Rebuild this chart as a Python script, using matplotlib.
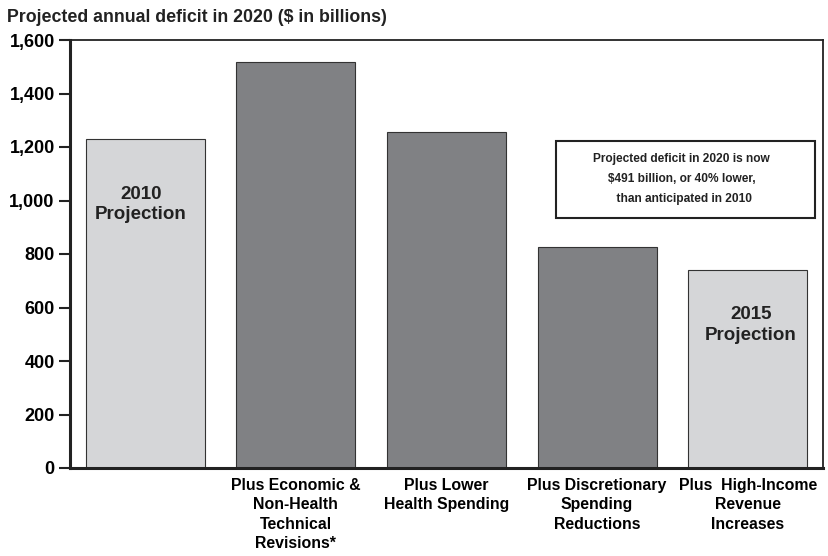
import matplotlib.pyplot as plt
from matplotlib.patches import Rectangle
from matplotlib.ticker import FuncFormatter

plt.rcParams['font.family'] = ['Liberation Sans', 'DejaVu Sans']
plt.rcParams['font.weight'] = 'bold'

categories = ['', 'Plus Economic &\nNon-Health\nTechnical\nRevisions*',
              'Plus Lower\nHealth Spending',
              'Plus Discretionary\nSpending\nReductions',
              'Plus  High-Income\nRevenue\nIncreases']
values = [1230, 1518, 1256, 826, 739]
colors = ['#d5d6d8', '#808184', '#808184', '#808184', '#d5d6d8']
yticks = [0, 200, 400, 600, 800, 1000, 1200, 1400, 1600]

fig = plt.figure(figsize=(8.29, 5.56), dpi=100)
ax = fig.add_axes([70 / 829, 1 - 468 / 556, 753 / 829, 428 / 556])

x = list(range(len(values)))
ax.bar(x, values, width=0.79, color=colors, edgecolor='#333333', linewidth=0.8, zorder=2)

ax.set_xlim(-0.5, 4.5)
ax.set_ylim(0, 1600)
ax.set_yticks(yticks)
ax.yaxis.set_major_formatter(FuncFormatter(lambda v, p: f'{int(v):,}'))
ax.set_xticks(x)
ax.set_xticklabels(categories, fontsize=11.4, linespacing=1.38)
ax.tick_params(axis='x', length=0, pad=7)
ax.tick_params(axis='y', length=8, width=1.5, labelsize=13, pad=3, color='#222222')

for s in ['left', 'bottom']:
    ax.spines[s].set_linewidth(2.2)
for s in ['top', 'right']:
    ax.spines[s].set_linewidth(1.3)
for s in ax.spines.values():
    s.set_color('#222222')
    s.set_zorder(3)

ax.text(-0.03, 985, '2010\nProjection', ha='center', va='center', fontsize=13.5,
        linespacing=1.3, color='#222222')
ax.text(4.02, 535, '2015\nProjection', ha='center', va='center', fontsize=13.5,
        linespacing=1.3, color='#222222')

# annotation box
ax.add_patch(Rectangle((2.725, 935), 1.725, 287, facecolor='white', edgecolor='#222222',
                       linewidth=1.5, zorder=3))
ax.text(3.56, 1080, 'Projected deficit in 2020 is now\n$491 billion, or 40% lower,\n  than anticipated in 2010',
        ha='center', va='center', fontsize=8.6, linespacing=1.85, color='#222222', zorder=4)

fig.text(7 / 829, 1 - 17 / 556, 'Projected annual deficit in 2020 ($ in billions)',
         ha='left', va='center', fontsize=12.8, color='#222222')

fig.savefig('out.png', dpi=100)
